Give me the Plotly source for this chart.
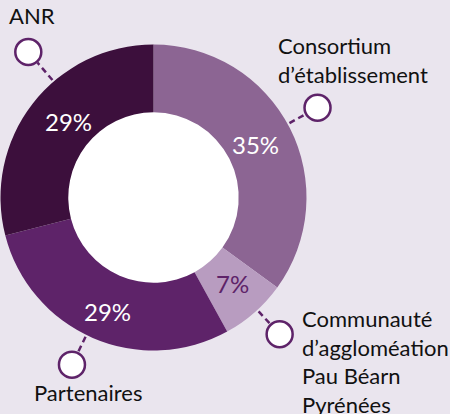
import numpy as np
import plotly.graph_objects as go

# ======================================================
# DONNÉES
# ======================================================
labels = ["Consortium\nd’établissement", "Communauté\nd’aggloméation\nPau Béarn\nPyrénées",
          "Partenaires", "ANR"]
valeurs = [35, 7, 29, 29]

COULEURS = ["#8C6593", "#B89CC0", "#5E2369", "#3C0F3C"]
TEXTE_PCT = ["white", "#5E2369", "white", "white"]
FOND = "#EAE5EE"
CONTOUR = "#5E2369"
POLICE = "Lato"

# géométrie (pixels)
W, H = 450, 414
CX, CY, R = 153.5, 197.5, 153
TROU = 0.557

# réglages des repères (décalage d'angle, distance, position du texte)
nudge = [-1.7, -1.3, 2.6, 11.5]
dist = [187, 186, 186, 192]
texte_dx = [-42, 20, 16, 4]
texte_dy = [-48, 27, 28, -36]
texte_align = ["left", "left", "center", "center"]
# réglages des pourcentages (décalage d'angle, rayon)
pct_nudge = [-0.9, -1.8, -1.3, 4.6]
pct_r = [115.5, 115.5, 121, 115.5]

fig = go.Figure()

fig.add_trace(go.Pie(
    labels=[l.replace("\n", " ") for l in labels], values=valeurs,
    sort=False, direction="clockwise", rotation=0, hole=TROU,
    marker=dict(colors=COULEURS, line=dict(width=0)),
    textinfo="none",
    domain=dict(x=[(CX - R) / W, (CX + R) / W], y=[1 - (CY + R) / H, 1 - (CY - R) / H]),
    showlegend=False, hoverinfo="label+percent",
))

# centre blanc du donut
rt = R * TROU + 0.5
fig.add_shape(type="circle", xref="x", yref="y", x0=CX - rt, x1=CX + rt, y0=CY - rt, y1=CY + rt,
              fillcolor="white", line=dict(width=0), layer="below")

# ======================================================
# REPÈRES (ligne pointillée + cercle + texte) ET POURCENTAGES
# ======================================================
total = sum(valeurs)
cumul = np.cumsum([0] + valeurs)
for i, lab in enumerate(labels):
    mid = (cumul[i] + valeurs[i] / 2) / total * 360
    a = np.radians(mid + nudge[i])
    ux, uy = np.sin(a), -np.cos(a)
    px, py = CX + dist[i] * ux, CY + dist[i] * uy
    r0, r1 = R + 2, dist[i] - 14
    fig.add_shape(type="line", xref="x", yref="y",
                  x0=CX + r0 * ux, y0=CY + r0 * uy, x1=CX + r1 * ux, y1=CY + r1 * uy,
                  line=dict(color=CONTOUR, width=2.5, dash="6px,4px"), layer="above")
    fig.add_shape(type="circle", xref="x", yref="y",
                  x0=px - 13, x1=px + 13, y0=py - 13, y1=py + 13,
                  fillcolor="white", line=dict(color=CONTOUR, width=2.5), layer="above")
    xanchor = "left" if texte_align[i] == "left" else "center"
    fig.add_annotation(x=px + texte_dx[i], y=py + texte_dy[i], xref="x", yref="y",
                       text=lab.replace("\n", "<br>"), showarrow=False,
                       xanchor=xanchor, yanchor="middle", align=texte_align[i],
                       font=dict(family=POLICE, size=22, color="#111111"))

    # pourcentage dans l'anneau
    b = np.radians(mid + pct_nudge[i])
    fig.add_annotation(x=CX + pct_r[i] * np.sin(b), y=CY - pct_r[i] * np.cos(b) + 1.5,
                       xref="x", yref="y", text=f"{valeurs[i] / total:.0%}", showarrow=False,
                       xanchor="center", yanchor="middle",
                       font=dict(family=POLICE, size=24, color=TEXTE_PCT[i]))

fig.update_xaxes(range=[0, W], visible=False, fixedrange=True)
fig.update_yaxes(range=[H, 0], visible=False, fixedrange=True)

fig.update_layout(
    width=W, height=H,
    margin=dict(l=0, r=0, t=0, b=0),
    paper_bgcolor=FOND, plot_bgcolor="rgba(0,0,0,0)",
    showlegend=False,
)

# pas de marge de page autour de la figure
fig.write_html("out.html", config={"displayModeBar": False},
               post_script="document.body.style.margin='0';")
